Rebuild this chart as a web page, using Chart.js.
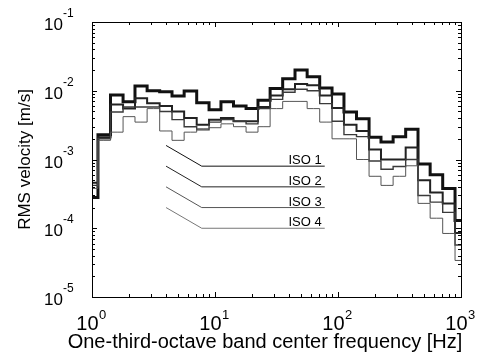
<!DOCTYPE html>
<html>
<head>
<meta charset="utf-8">
<script src="https://cdn.jsdelivr.net/npm/chart.js@4.4.1/dist/chart.umd.min.js"></script>
<style>
  html, body { margin: 0; padding: 0; background: #fff; }
</style>
</head>
<body>
<canvas id="chart" width="479" height="364"></canvas>
<script>
// one-third-octave band centre frequencies [Hz]
const bands = [1, 1.25, 1.6, 2, 2.5, 3.15, 4, 5, 6.3, 8, 10, 12.5, 16, 20, 25, 31.5,
  40, 50, 63, 80, 100, 125, 160, 200, 250, 315, 400, 500, 630, 800, 1000];

// RMS velocity [m/s] per band
const iso1 = [2.8e-4, 2.3e-3, 8.7e-3, 6.9e-3, 1.17e-2, 1.0e-2, 9.7e-3, 8.4e-3, 9.9e-3, 6.7e-3,
  5.3e-3, 6.9e-3, 6.0e-3, 5.5e-3, 7.3e-3, 1.08e-2, 1.5e-2, 2.0e-2, 1.6e-2, 1.1e-2,
  9.0e-3, 4.9e-3, 3.9e-3, 2.1e-3, 1.8e-3, 2.15e-3, 2.75e-3, 8.6e-4, 6.0e-4, 3.8e-4, 1.3e-4];
const iso2 = [4.6e-4, 2.1e-3, 6.3e-3, 5.5e-3, 7.8e-3, 6.6e-3, 6.0e-3, 5.0e-3, 4.0e-3, 3.2e-3,
  3.8e-3, 4.0e-3, 3.6e-3, 3.6e-3, 5.8e-3, 8.5e-3, 1.05e-2, 1.25e-2, 1.2e-2, 8.5e-3,
  5.6e-3, 3.2e-3, 2.6e-3, 1.4e-3, 1.0e-3, 1.0e-3, 1.5e-3, 5.0e-4, 3.3e-4, 2.3e-4, 8.5e-5];
const iso3 = [4.2e-4, 2.0e-3, 4.9e-3, 5.8e-3, 5.8e-3, 5.8e-3, 5.0e-3, 3.8e-3, 3.0e-3, 2.7e-3,
  3.5e-3, 3.8e-3, 3.6e-3, 3.3e-3, 5.5e-3, 7.5e-3, 9.5e-3, 1.05e-2, 1.0e-2, 6.5e-3,
  3.6e-3, 2.3e-3, 2.15e-3, 9.5e-4, 7.2e-4, 7.9e-4, 1.0e-3, 3.0e-4, 2.4e-4, 1.7e-4, 5.7e-5];
const iso4 = [3.8e-4, 1.9e-3, 2.5e-3, 4.2e-3, 3.5e-3, 5.5e-3, 2.6e-3, 1.9e-3, 2.5e-3, 2.8e-3,
  2.9e-3, 3.3e-3, 3.0e-3, 2.5e-3, 3.0e-3, 5.5e-3, 7.0e-3, 7.0e-3, 5.5e-3, 3.5e-3,
  2.0e-3, 2.0e-3, 1.0e-3, 5.7e-4, 4.2e-4, 5.7e-4, 8.1e-4, 2.3e-4, 1.4e-4, 8.4e-5, 3.4e-5];

const seriesNames = ["ISO 1", "ISO 2", "ISO 3", "ISO 4"];

// label leader lines: start, knee, end frequency and the levels between them
const leaderX = [4, 7.8, 78];
const leaderY = [1.6e-3, 8e-4, 4e-4, 2e-4, 1e-4];

const xDecades = [1, 10, 100, 1000];
const yDecades = [1e-5, 1e-4, 1e-3, 1e-2, 1e-1];

const FONT = "'Liberation Sans', Arial, Helvetica, sans-serif";

function toPoints(values) {
  return values.map((v, i) => ({ x: bands[i], y: v }));
}

function leader(n) {
  return [
    { x: leaderX[0], y: leaderY[n] },
    { x: leaderX[1], y: leaderY[n + 1] },
    { x: leaderX[2], y: leaderY[n + 1] },
  ];
}

const lineStyles = [
  { color: "#111", width: 3 },
  { color: "#222", width: 2 },
  { color: "#3a3a3a", width: 1.4 },
  { color: "#555", width: 1 },
];
const leaderColors = ["#111", "#222", "#555", "#777"];

const datasets = [iso1, iso2, iso3, iso4].map((vals, i) => ({
  label: seriesNames[i],
  data: toPoints(vals),
  borderColor: lineStyles[i].color,
  borderWidth: lineStyles[i].width,
  stepped: "middle",
  pointRadius: 0,
  fill: false,
  order: 4 - i,
}));

seriesNames.forEach((name, i) => {
  datasets.push({
    label: name + " leader",
    data: leader(i),
    borderColor: leaderColors[i],
    borderWidth: 1,
    pointRadius: 0,
    fill: false,
    tension: 0,
  });
});

// draw the matlab style box, inner ticks, tick labels and titles
const frameAndLabels = {
  id: "frameAndLabels",
  afterDraw(chart) {
    const { ctx, chartArea: a, scales } = chart;
    const xs = scales.x, ys = scales.y;
    ctx.save();
    ctx.strokeStyle = "#000";
    ctx.lineWidth = 1;

    // ticks
    ctx.beginPath();
    xDecades.forEach((d, di) => {
      for (let m = 1; m <= 9; m++) {
        if (di === xDecades.length - 1 && m > 1) break;
        const px = Math.round(xs.getPixelForValue(d * m)) + 0.5;
        const len = m === 1 ? 5 : 3;
        ctx.moveTo(px, a.bottom); ctx.lineTo(px, a.bottom - len);
        ctx.moveTo(px, a.top); ctx.lineTo(px, a.top + len);
      }
    });
    yDecades.forEach((d, di) => {
      for (let m = 1; m <= 9; m++) {
        if (di === yDecades.length - 1 && m > 1) break;
        const py = Math.round(ys.getPixelForValue(d * m)) + 0.5;
        const len = m === 1 ? 5 : 3;
        ctx.moveTo(a.left, py); ctx.lineTo(a.left + len, py);
        ctx.moveTo(a.right, py); ctx.lineTo(a.right - len, py);
      }
    });
    ctx.stroke();

    // box
    ctx.strokeRect(Math.round(a.left) + 0.5, Math.round(a.top) + 0.5,
      Math.round(a.right - a.left), Math.round(a.bottom - a.top));

    ctx.fillStyle = "#000";
    ctx.textBaseline = "alphabetic";

    // x tick labels 10^n
    xDecades.forEach((d) => {
      const px = xs.getPixelForValue(d);
      const exp = String(Math.round(Math.log10(d)));
      ctx.font = "20px " + FONT;
      const wb = ctx.measureText("10").width;
      ctx.font = "13px " + FONT;
      const we = ctx.measureText(exp).width;
      const x0 = px - (wb + we) / 2 - 1;
      ctx.font = "20px " + FONT;
      ctx.textAlign = "left";
      ctx.fillText("10", x0, 330);
      ctx.font = "13px " + FONT;
      ctx.fillText(exp, x0 + wb + 0.5, 319);
    });

    // y tick labels 10^-n
    yDecades.forEach((d) => {
      const py = ys.getPixelForValue(d);
      const exp = "-" + String(Math.round(-Math.log10(d)));
      ctx.font = "12px " + FONT;
      ctx.textAlign = "left";
      ctx.fillText(exp, 63, py - 5);
      ctx.font = "17px " + FONT;
      ctx.textAlign = "right";
      ctx.fillText("10", 63, py + 8);
    });

    // axis titles
    ctx.font = "20px " + FONT;
    ctx.textAlign = "center";
    ctx.fillText("One-third-octave band center frequency [Hz]", 265, 348);
    ctx.save();
    ctx.font = "17px " + FONT;
    ctx.translate(30, (a.top + a.bottom) / 2);
    ctx.rotate(-Math.PI / 2);
    ctx.fillText("RMS velocity [m/s]", 0, 0);
    ctx.restore();

    // series labels over the leader lines
    ctx.font = "13px " + FONT;
    ctx.textAlign = "right";
    seriesNames.forEach((name, i) => {
      const px = xs.getPixelForValue(leaderX[2]);
      const py = ys.getPixelForValue(leaderY[i + 1]);
      ctx.fillText(name, px - 3, py - 2);
    });
    ctx.restore();
  },
};

new Chart(document.getElementById("chart").getContext("2d"), {
  type: "line",
  data: { datasets },
  options: {
    responsive: false,
    animation: false,
    devicePixelRatio: 1,
    layout: { padding: { left: 92, right: 18, top: 22, bottom: 67 } },
    plugins: { legend: { display: false }, tooltip: { enabled: false } },
    scales: {
      x: { type: "logarithmic", min: 1, max: 1000, display: false },
      y: { type: "logarithmic", min: 1e-5, max: 1e-1, display: false },
    },
  },
  plugins: [frameAndLabels],
});
</script>
</body>
</html>
